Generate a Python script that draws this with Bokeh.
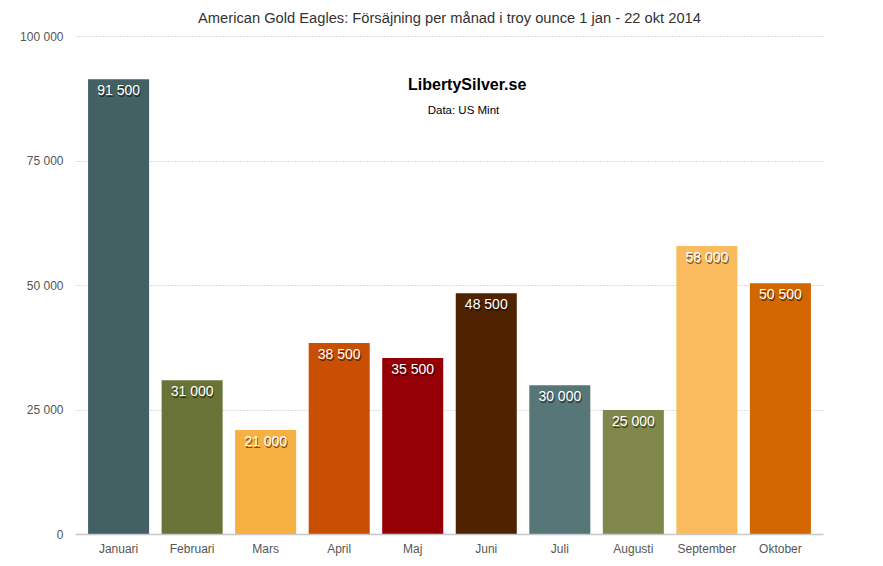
from bokeh.plotting import figure
from bokeh.models import ColumnDataSource, FactorRange, Range1d, FixedTicker, Label
from bokeh.core.properties import value
from bokeh.embed import file_html
from bokeh.resources import INLINE

months = ["Januari", "Februari", "Mars", "April", "Maj", "Juni", "Juli", "Augusti", "September", "Oktober"]
sales = [91500, 31000, 21000, 38500, 35500, 48500, 30000, 25000, 58000, 50500]
colors = ["#436163", "#6a7337", "#f7b042", "#c94f02", "#940005", "#4f2200", "#577678", "#7f884a", "#f9bb5e", "#d26601"]
y_ticks = [0, 25000, 50000, 75000, 100000]
y_tick_labels = ["0", "25 000", "50 000", "75 000", "100 000"]
title_text = "American Gold Eagles: Försäjning per månad i troy ounce 1 jan - 22 okt 2014"

FONT = "Liberation Sans"

labels = [f"{v:,}".replace(",", " ") for v in sales]
src = ColumnDataSource(dict(x=months, top=sales, color=colors, label=labels))

p = figure(x_range=FactorRange(*months, range_padding=0.086, range_padding_units="absolute"),
           y_range=Range1d(0, 100300),
           width=867, height=562, output_backend="svg", toolbar_location=None,
           min_border_left=75, min_border_right=44, min_border_top=35, min_border_bottom=28)
p.outline_line_color = None
p.background_fill_color = "white"

p.title.text = title_text
p.title.align = "center"
p.title.vertical_align = "top"
p.title.text_font = FONT
p.title.text_font_size = "14.7px"
p.title.text_font_style = "normal"
p.title.text_color = "#333333"
p.title.standoff = 15

p.vbar(x="x", top="top", width=0.83, color="color", line_color=None, source=src)

# value labels with shadow
p.text(x="x", y="top", text="label", source=src, text_align="center", text_baseline="middle",
       x_offset=1, y_offset=13, text_color="black", text_alpha=0.55,
       text_font=value(FONT), text_font_size="14px")
p.text(x="x", y="top", text="label", source=src, text_align="center", text_baseline="middle",
       y_offset=11, text_color="white",
       text_font=value(FONT), text_font_size="14px")

p.add_layout(Label(x=5.24, y=90400, text="LibertySilver.se", text_align="center", text_baseline="middle",
                   text_font=FONT, text_font_size="16px", text_font_style="bold", text_color="black"))
p.add_layout(Label(x=5.19, y=85300, text="Data: US Mint", text_align="center", text_baseline="middle",
                   text_font=FONT, text_font_size="11.5px", text_color="black"))

# axes
p.yaxis.ticker = FixedTicker(ticks=y_ticks)
p.yaxis.major_label_overrides = {t: l for t, l in zip(y_ticks, y_tick_labels)}
p.yaxis.axis_line_color = None
p.yaxis.major_tick_line_color = None
p.yaxis.minor_tick_line_color = None
p.yaxis.major_tick_out = 0
p.yaxis.major_tick_in = 0
p.yaxis.major_label_standoff = 12
p.yaxis.major_label_text_font = FONT
p.yaxis.major_label_text_font_size = "12px"
p.yaxis.major_label_text_color = "#555555"

p.xaxis.axis_line_color = "#c8c8c8"
p.xaxis.axis_line_width = 1.5
p.xaxis.major_tick_line_color = None
p.xaxis.minor_tick_line_color = None
p.xaxis.major_tick_out = 0
p.xaxis.major_tick_in = 0
p.xaxis.major_label_standoff = 7
p.xaxis.major_label_text_font = FONT
p.xaxis.major_label_text_font_size = "12px"
p.xaxis.major_label_text_color = "#555555"

p.xgrid.grid_line_color = None
p.ygrid.grid_line_color = "#bbbbbb"
p.ygrid.grid_line_dash = "1 2"
p.ygrid.grid_line_width = 1

open("out.html", "w").write(file_html(p, INLINE))
